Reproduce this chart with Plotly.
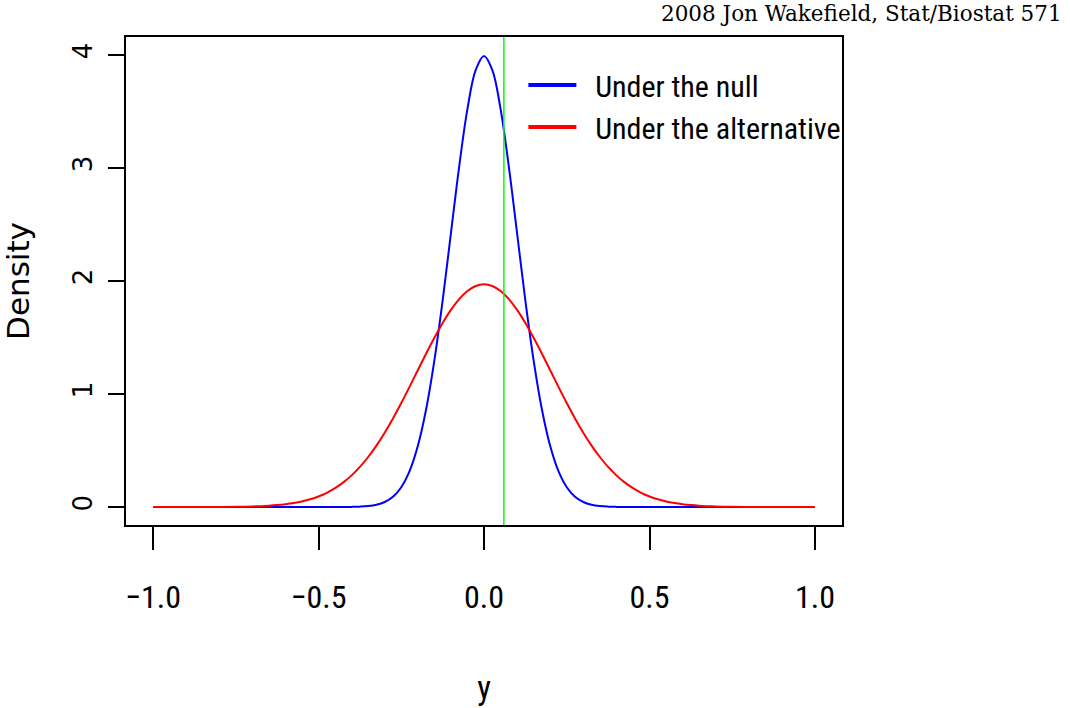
import plotly.graph_objects as go

# sample positions along y
x_vals = [-1.0, -0.95, -0.9, -0.85, -0.8, -0.75, -0.725, -0.7, -0.675, -0.65, -0.625, -0.6,
          -0.575, -0.55, -0.525, -0.5, -0.475, -0.45, -0.425, -0.4, -0.375, -0.35, -0.325,
          -0.3, -0.275, -0.25, -0.225, -0.2, -0.175, -0.15, -0.125, -0.1, -0.075, -0.05,
          -0.025, 0.0,
          0.025, 0.05, 0.075, 0.1, 0.125, 0.15, 0.175, 0.2, 0.225, 0.25, 0.275, 0.3, 0.325,
          0.35, 0.375, 0.4, 0.425, 0.45, 0.475, 0.5, 0.525, 0.55, 0.575, 0.6, 0.625, 0.65,
          0.675, 0.7, 0.725, 0.75, 0.8, 0.85, 0.9, 0.95, 1.0]

# density under the null
null_density = [0, 0, 0, 0, 0, 0, 0, 0, 0, 0, 0, 0, 0, 0, 0, 0,
                0.0001, 0.0002, 0.0005, 0.0013, 0.0035, 0.0087, 0.0203, 0.0443, 0.0909, 0.1753,
                0.3174, 0.540, 0.863, 1.295, 1.826, 2.420, 3.011, 3.521, 3.866, 3.989,
                3.866, 3.521, 3.011, 2.420, 1.826, 1.295, 0.863, 0.540, 0.3174, 0.1753, 0.0909,
                0.0443, 0.0203, 0.0087, 0.0035, 0.0013, 0.0005, 0.0002, 0.0001,
                0, 0, 0, 0, 0, 0, 0, 0, 0, 0, 0, 0, 0, 0, 0, 0]

# density under the alternative
alt_density = [0, 0, 0.0001, 0.0003, 0.0008, 0.0021, 0.0032, 0.0050, 0.0076, 0.0114, 0.0168,
               0.0244, 0.0349, 0.0493, 0.0684, 0.0934, 0.1259, 0.1669, 0.2177, 0.2799, 0.3546,
               0.4423, 0.5433, 0.6574, 0.7835, 0.9194, 1.0626, 1.2096, 1.3561, 1.4972, 1.6282,
               1.7438, 1.8394, 1.9108, 1.955, 1.970,
               1.955, 1.9108, 1.8394, 1.7438, 1.6282, 1.4972, 1.3561, 1.2096, 1.0626, 0.9194,
               0.7835, 0.6574, 0.5433, 0.4423, 0.3546, 0.2799, 0.2177, 0.1669, 0.1259, 0.0934,
               0.0684, 0.0493, 0.0349, 0.0244, 0.0168, 0.0114, 0.0076, 0.0050, 0.0032, 0.0021,
               0.0008, 0.0003, 0.0001, 0, 0]

threshold = 0.06

x_ticks = [-1.0, -0.5, 0.0, 0.5, 1.0]
x_ticktext = ["\u22121.0", "\u22120.5", "0.0", "0.5", "1.0"]
y_ticks = [0, 1, 2, 3, 4]
y_ticktext = ["0", "1", "2", "3", "4"]

series_names = ["Under the null", "Under the alternative"]
series_colors = ["#0000FF", "#FF0000"]

WIDE = "DejaVu Sans, Liberation Sans, sans-serif"
NARROW = "Roboto Condensed, Liberation Sans Narrow, DejaVu Sans Condensed, Liberation Sans, sans-serif"

fig = go.Figure()
fig.add_trace(go.Scatter(x=x_vals, y=null_density, mode="lines", showlegend=False,
                         line=dict(color=series_colors[0], width=2, shape="spline")))
fig.add_trace(go.Scatter(x=x_vals, y=alt_density, mode="lines", showlegend=False,
                         line=dict(color=series_colors[1], width=2, shape="spline")))
# legend entries (thicker lines as in the original legend)
for name, col in zip(series_names, series_colors):
    fig.add_trace(go.Scatter(x=[None], y=[None], mode="lines", name="\u00a0\u00a0" + name,
                             line=dict(color=col, width=4)))

fig.add_vline(x=threshold, line=dict(color="#00FF00", width=1.5))

fig.update_layout(
    width=1070, height=708,
    margin=dict(l=126, r=228, t=37, b=183),
    paper_bgcolor="white", plot_bgcolor="white",
    showlegend=True,
    legend=dict(x=0.555, y=0.955, xanchor="left", yanchor="top",
                bgcolor="rgba(0,0,0,0)", itemwidth=48,
                font=dict(family=NARROW, size=30, color="black")),
    xaxis=dict(range=[-1.0816, 1.0816], tickvals=x_ticks, ticktext=x_ticktext,
               showgrid=False, zeroline=False, automargin=False,
               showline=True, mirror=True, linecolor="black", linewidth=2,
               ticks="outside", ticklen=23, tickwidth=1.5, tickcolor="black",
               ticklabelstandoff=20,
               tickfont=dict(family=NARROW, size=32, color="black"),
               title=dict(text="y", font=dict(family=NARROW, size=33, color="black"),
                          standoff=60)),
    yaxis=dict(range=[-0.159, 4.157], tickvals=y_ticks, ticktext=y_ticktext,
               showgrid=False, zeroline=False, automargin=False,
               showline=True, mirror=True, linecolor="black", linewidth=2,
               ticks="outside", ticklen=16, tickwidth=1.5, tickcolor="black",
               tickangle=-90, ticklabelstandoff=6,
               tickfont=dict(family=WIDE, size=26, color="black"),
               title=dict(text="Density", font=dict(family=WIDE, size=31, color="black"),
                          standoff=32)),
)

fig.add_annotation(text="2008 Jon Wakefield, Stat/Biostat 571",
                   xref="paper", yref="paper", x=(1064 - 126) / 716, y=(525 - 14) / 488,
                   xanchor="right", yanchor="middle", showarrow=False,
                   font=dict(family="DejaVu Serif", size=21.5, color="black"))

fig.write_html("out.html")
